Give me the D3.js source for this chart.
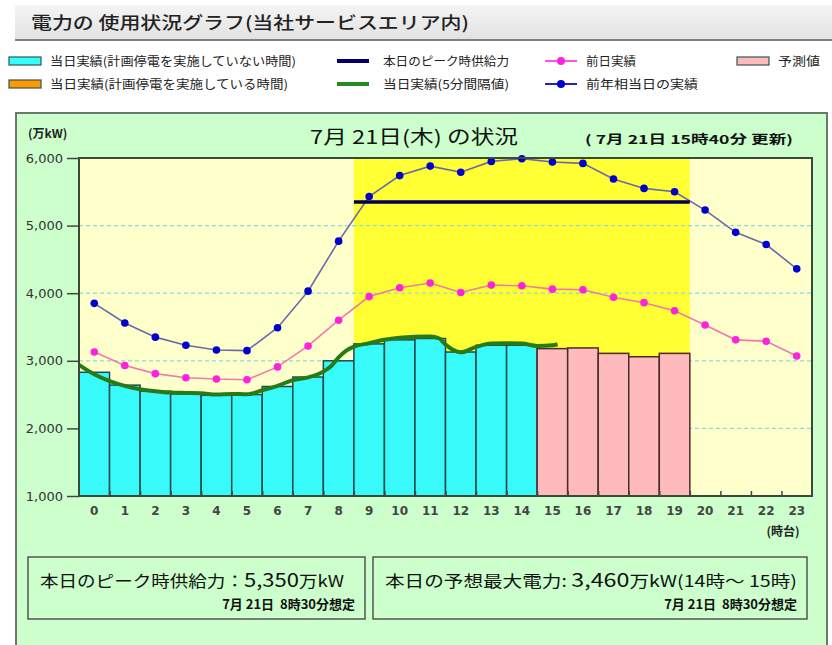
<!DOCTYPE html>
<html>
<head>
<meta charset="utf-8">
<script src="https://cdn.jsdelivr.net/npm/d3@7"></script>
<style>
  body { margin: 0; background: #fff; }
  svg { display: block; font-family: "Noto Sans CJK JP", sans-serif; }
  .num { font-family: "DejaVu Sans", sans-serif; }
</style>
</head>
<body>
<div id="chart"></div>
<script>
// Data (万kW)
const hourLabels = ["0","1","2","3","4","5","6","7","8","9","10","11","12","13","14","15","16","17","18","19","20","21","22","23"];
const yTicks = [1000, 2000, 3000, 4000, 5000, 6000];
const gridTicks = [2000, 3000, 4000, 5000];

// 当日実績 (hourly bars, hours 0-14)
const actualHours = ["0","1","2","3","4","5","6","7","8","9","10","11","12","13","14"];
const actualValues = [2830, 2640, 2550, 2510, 2490, 2500, 2620, 2760, 3000, 3250, 3310, 3330, 3130, 3230, 3230];

// 予測値 (hours 15-19)
const forecastHours = ["15","16","17","18","19"];
const forecastValues = [3180, 3190, 3110, 3060, 3110];

// 前日実績
const prevDayValues = [3130, 2930, 2810, 2750, 2730, 2720, 2910, 3220, 3600, 3950, 4080, 4150, 4010, 4120, 4110, 4060, 4050, 3940, 3860, 3740, 3530, 3310, 3290, 3070];

// 前年相当日の実績
const prevYearValues = [3850, 3560, 3350, 3230, 3160, 3150, 3490, 4030, 4770, 5430, 5740, 5880, 5790, 5950, 5990, 5940, 5920, 5690, 5550, 5500, 5230, 4900, 4720, 4360];

// 当日実績 (5分間隔値), read at about half-hour steps (time in hours)
const fiveMinTimes = [0, 0.5, 1, 1.5, 2, 2.5, 3, 3.5, 4, 4.5, 5, 5.5, 6, 6.5, 7, 7.5, 8, 8.25, 8.5, 8.75, 9, 9.5, 10, 10.5, 11, 11.5, 11.8, 12, 12.5, 13, 13.5, 14, 14.5, 15, 15.5, 15.67];
const fiveMinValues = [2940, 2800, 2700, 2630, 2580, 2550, 2530, 2525, 2520, 2500, 2510, 2505, 2565, 2630, 2715, 2755, 2840, 2920, 3050, 3150, 3210, 3260, 3310, 3340, 3355, 3360, 3330, 3240, 3125, 3205, 3255, 3260, 3255, 3220, 3230, 3245];

// ピーク時供給力 and its window (hours)
const peakSupply = 5350;
const peakWindow = [9, 20];

const W = 832, H = 645;
const plot = { left: 79, right: 812, top: 158, bottom: 496 };

const svg = d3.select('#chart').append('svg')
    .attr('width', W)
    .attr('height', H);

// Title bar
const grad = svg.append('defs').append('linearGradient')
    .attr('id', 'titleGrad').attr('x1', 0).attr('y1', 0).attr('x2', 0).attr('y2', 1);
grad.append('stop').attr('offset', '0%').attr('stop-color', '#f4f4f4');
grad.append('stop').attr('offset', '100%').attr('stop-color', '#e2e2e2');

svg.append('rect')
    .attr('x', 15).attr('y', 5).attr('width', W - 15).attr('height', 35)
    .attr('fill', 'url(#titleGrad)');
svg.append('line')
    .attr('x1', 15).attr('x2', W).attr('y1', 40).attr('y2', 40)
    .attr('stroke', '#808080').attr('stroke-width', 2);
svg.append('text')
    .attr('x', 31).attr('y', 29)
    .attr('font-size', 17).attr('font-weight', 500).attr('fill', '#222')
    .attr('textLength', 438).attr('lengthAdjust', 'spacingAndGlyphs')
    .text('電力の 使用状況グラフ(当社サービスエリア内)');

// Legend
const legend = svg.append('g').attr('font-size', 12).attr('fill', '#222');
function legendText(x, y, w, label) {
    legend.append('text')
        .attr('x', x).attr('y', y)
        .attr('textLength', w).attr('lengthAdjust', 'spacingAndGlyphs')
        .text(label);
}
function legendBox(x, y, fill) {
    legend.append('rect')
        .attr('x', x).attr('y', y - 9).attr('width', 32).attr('height', 8)
        .attr('fill', fill).attr('stroke', '#355').attr('stroke-width', 1.2);
}
function legendLine(x, y, color, w, marker) {
    legend.append('line')
        .attr('x1', x).attr('x2', x + 32).attr('y1', y - 5).attr('y2', y - 5)
        .attr('stroke', color).attr('stroke-width', w);
    if (marker) {
        legend.append('circle')
            .attr('cx', x + 16).attr('cy', y - 5).attr('r', 4)
            .attr('fill', marker);
    }
}
legendBox(9, 66, '#33ffff');
legendText(50, 66, 246, '当日実績(計画停電を実施していない時間)');
legendLine(337, 66, '#000066', 4);
legendText(383, 66, 126, '本日のピーク時供給力');
legendLine(545, 66, '#ff55dd', 2, '#ff22dd');
legendText(586, 66, 50, '前日実績');
legendBox(737, 66, '#ffbbbb');
legendText(778, 66, 42, '予測値');

legendBox(9, 89, '#ff9900');
legendText(50, 89, 238, '当日実績(計画停電を実施している時間)');
legendLine(337, 89, '#228b22', 4);
legendText(383, 89, 126, '当日実績(5分間隔値)');
legendLine(545, 89, '#2222cc', 2, '#0000cc');
legendText(586, 89, 112, '前年相当日の実績');

// Green panel
svg.append('rect')
    .attr('x', 16).attr('y', 113).attr('width', 811).attr('height', 540)
    .attr('fill', '#ccffcc').attr('stroke', '#6a7a6a').attr('stroke-width', 2);

svg.append('text')
    .attr('x', 28).attr('y', 138)
    .attr('font-size', 12).attr('font-weight', 700).attr('fill', '#222')
    .text('(万kW)');

svg.append('text')
    .attr('x', 310).attr('y', 144)
    .attr('font-size', 19).attr('fill', '#111')
    .attr('textLength', 208).attr('lengthAdjust', 'spacingAndGlyphs')
    .text('7月 21日(木) の状況');

svg.append('text')
    .attr('x', 585).attr('y', 144)
    .attr('font-size', 12).attr('font-weight', 700).attr('fill', '#111')
    .attr('textLength', 208).attr('lengthAdjust', 'spacingAndGlyphs')
    .text('( 7月 21日 15時40分 更新)');

// Scales
const x = d3.scaleBand().domain(hourLabels).range([plot.left, plot.right]).padding(0);
const xt = d3.scaleLinear().domain([0, 24]).range([plot.left, plot.right]);
const y = d3.scaleLinear().domain([1000, 6000]).range([plot.bottom, plot.top]);

// Plot backgrounds
svg.append('rect')
    .attr('x', plot.left).attr('y', plot.top)
    .attr('width', plot.right - plot.left).attr('height', plot.bottom - plot.top)
    .attr('fill', '#ffffcc');
svg.append('rect')
    .attr('x', xt(peakWindow[0])).attr('y', plot.top)
    .attr('width', xt(peakWindow[1]) - xt(peakWindow[0])).attr('height', plot.bottom - plot.top)
    .attr('fill', '#ffff33');

// Grid
svg.append('g').selectAll('line')
    .data(gridTicks)
    .enter()
    .append('line')
    .attr('x1', plot.left).attr('x2', plot.right)
    .attr('y1', d => y(d)).attr('y2', d => y(d))
    .attr('stroke', '#88dddd').attr('stroke-width', 1.2).attr('stroke-dasharray', '4,3');

// Bars
function drawBars(keys, values, fill, stroke) {
    svg.append('g').selectAll('rect')
        .data(keys.map((k, i) => ({ k: k, v: values[i] })))
        .enter()
        .append('rect')
        .attr('x', d => x(d.k))
        .attr('y', d => y(d.v))
        .attr('width', x.bandwidth())
        .attr('height', d => y(1000) - y(d.v))
        .attr('fill', fill)
        .attr('stroke', stroke)
        .attr('stroke-width', 1.5);
}
drawBars(actualHours, actualValues, '#38fafa', '#1f4a4a');
drawBars(forecastHours, forecastValues, '#ffbbbb', '#4a2a2a');

// Hourly lines with markers
function drawSeries(values, lineColor, dotColor) {
    const pts = values.map((v, i) => [x(hourLabels[i]) + x.bandwidth() / 2, y(v)]);
    svg.append('path')
        .attr('d', d3.line()(pts))
        .attr('fill', 'none')
        .attr('stroke', lineColor)
        .attr('stroke-width', 1.6);
    svg.append('g').selectAll('circle')
        .data(pts)
        .enter()
        .append('circle')
        .attr('cx', d => d[0]).attr('cy', d => d[1]).attr('r', 3.8)
        .attr('fill', dotColor);
}
drawSeries(prevDayValues, '#f07aa8', '#ff22dd');
drawSeries(prevYearValues, '#6a6aa8', '#0000cc');

// 5-minute actual line
svg.append('path')
    .datum(fiveMinTimes.map((t, i) => [xt(t), y(fiveMinValues[i])]))
    .attr('d', d3.line().curve(d3.curveMonotoneX))
    .attr('fill', 'none')
    .attr('stroke', '#287a18')
    .attr('stroke-width', 4)
    .attr('stroke-linejoin', 'round');

// Peak supply line
svg.append('line')
    .attr('x1', xt(peakWindow[0])).attr('x2', xt(peakWindow[1]))
    .attr('y1', y(peakSupply)).attr('y2', y(peakSupply))
    .attr('stroke', '#000055').attr('stroke-width', 3.5);

// Frame
svg.append('rect')
    .attr('x', plot.left).attr('y', plot.top)
    .attr('width', plot.right - plot.left).attr('height', plot.bottom - plot.top)
    .attr('fill', 'none').attr('stroke', '#3a4a3a').attr('stroke-width', 2);

// Y axis
const yAxis = svg.append('g')
    .attr('transform', 'translate(' + plot.left + ',0)')
    .call(d3.axisLeft(y).tickValues(yTicks).tickFormat(d3.format(',')).tickSize(12).tickPadding(4));
yAxis.select('.domain').remove();
yAxis.selectAll('line').attr('stroke', '#444').attr('stroke-width', 1.5);
yAxis.selectAll('text')
    .attr('class', 'num')
    .attr('font-size', 13).attr('fill', '#333');

// Hour boundary ticks (inward)
const tickAxis = svg.append('g')
    .attr('transform', 'translate(0,' + plot.bottom + ')')
    .call(d3.axisBottom(xt).tickValues(d3.range(1, 24)).tickSize(-5).tickFormat(''));
tickAxis.select('.domain').remove();
tickAxis.selectAll('line').attr('stroke', '#444').attr('stroke-width', 1.5);

// X labels
const xAxis = svg.append('g')
    .attr('transform', 'translate(0,' + plot.bottom + ')')
    .call(d3.axisBottom(x).tickSize(0).tickPadding(10));
xAxis.select('.domain').remove();
xAxis.selectAll('text')
    .attr('class', 'num')
    .attr('font-size', 12).attr('font-weight', 700).attr('fill', '#444');

svg.append('text')
    .attr('x', 783).attr('y', 536)
    .attr('text-anchor', 'middle')
    .attr('font-size', 12).attr('font-weight', 700).attr('fill', '#222')
    .text('(時台)');

// Summary boxes
const boxes = [
    { x: 28, w: 337, pre: '本日のピーク時供給力：', num: '5,350', post: '万kW', sub: '7月 21日\u00a0\u00a08時30分想定', len: 304 },
    { x: 373, w: 434, pre: '本日の予想最大電力: ', num: '3,460', post: '万kW(14時～ 15時)', sub: '7月 21日\u00a0\u00a08時30分想定', len: 412 }
];
boxes.forEach(b => {
    svg.append('rect')
        .attr('x', b.x).attr('y', 557).attr('width', b.w).attr('height', 62)
        .attr('fill', 'none').attr('stroke', '#555').attr('stroke-width', 1.5);
    const t = svg.append('text')
        .attr('x', b.x + 12).attr('y', 587)
        .attr('font-size', 16).attr('fill', '#111')
        .attr('textLength', b.len).attr('lengthAdjust', 'spacingAndGlyphs');
    t.append('tspan').text(b.pre);
    t.append('tspan').attr('font-size', 19).text(b.num);
    t.append('tspan').text(b.post);
    svg.append('text')
        .attr('x', b.x + b.w - 10).attr('y', 609)
        .attr('text-anchor', 'end')
        .attr('font-size', 13).attr('font-weight', 700).attr('fill', '#111')
        .text(b.sub);
});
</script>
</body>
</html>
